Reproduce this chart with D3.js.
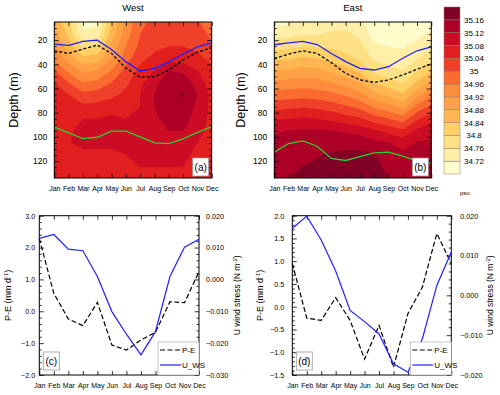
<!DOCTYPE html>
<html>
<head>
<meta charset="utf-8">
<script src="https://cdn.jsdelivr.net/npm/d3@7"></script>
<style>
  body { margin: 0; background: #fff; }
  svg text { font-family: "Liberation Sans", Arial, sans-serif; fill: #000; }
</style>
</head>
<body>
<div id="chart"></div>
<script>
// ---- data ----
const months = ["Jan", "Feb", "Mar", "Apr", "May", "Jun", "Jul", "Aug", "Sep", "Oct", "Nov", "Dec"];
const depths = [5, 15, 25, 35, 45, 55, 65, 75, 85, 95, 105, 115, 125, 135];
const depthTicks = [20, 40, 60, 80, 100, 120];
const levels = [34.72, 34.76, 34.8, 34.84, 34.88, 34.92, 34.96, 35, 35.04, 35.08, 35.12, 35.16];
const levelLabels = ["34.72", "34.76", "34.8", "34.84", "34.88", "34.92", "34.96", "35", "35.04", "35.08", "35.12", "35.16"];
const levelColors = ["#fffbca", "#ffeea6", "#fee185", "#fed167", "#feb650", "#fea245", "#fd8c3c",
  "#fa6b30", "#ef4129", "#e21f1f", "#cb0c24", "#ad0027", "#800026"];

// salinity, one row per month (Jan..Dec), one value per depth level
const westSalinity = [
  [34.87, 34.90, 34.92, 34.95, 35.00, 35.04, 35.05, 35.06, 35.06, 35.07, 35.07, 35.06, 35.06, 35.05],
  [34.81, 34.83, 34.86, 34.90, 34.95, 35.00, 35.04, 35.05, 35.06, 35.075, 35.078, 35.07, 35.06, 35.05],
  [34.70, 34.73, 34.79, 34.85, 34.91, 34.96, 35.01, 35.05, 35.08, 35.09, 35.09, 35.07, 35.06, 35.05],
  [34.71, 34.74, 34.80, 34.86, 34.92, 34.97, 35.02, 35.05, 35.08, 35.10, 35.09, 35.07, 35.06, 35.05],
  [34.84, 34.86, 34.89, 34.92, 34.96, 35.00, 35.03, 35.06, 35.09, 35.10, 35.09, 35.07, 35.06, 35.06],
  [34.93, 34.94, 34.96, 34.98, 35.01, 35.03, 35.05, 35.07, 35.08, 35.09, 35.09, 35.08, 35.07, 35.06],
  [34.99, 35.00, 35.01, 35.03, 35.05, 35.07, 35.08, 35.08, 35.09, 35.09, 35.09, 35.09, 35.08, 35.07],
  [35.01, 35.02, 35.03, 35.05, 35.08, 35.11, 35.12, 35.12, 35.11, 35.11, 35.10, 35.09, 35.08, 35.07],
  [35.02, 35.03, 35.04, 35.06, 35.12, 35.14, 35.15, 35.15, 35.14, 35.12, 35.10, 35.09, 35.08, 35.07],
  [35.02, 35.03, 35.04, 35.06, 35.11, 35.15, 35.163, 35.15, 35.14, 35.12, 35.10, 35.09, 35.08, 35.07],
  [35.01, 35.02, 35.03, 35.05, 35.08, 35.10, 35.12, 35.11, 35.10, 35.09, 35.08, 35.07, 35.07, 35.06],
  [34.95, 34.99, 35.01, 35.03, 35.05, 35.06, 35.07, 35.07, 35.07, 35.07, 35.07, 35.06, 35.06, 35.05]
];
const eastSalinity = [
  [34.705, 34.742, 34.785, 34.831, 34.880, 34.929, 34.975, 35.025, 35.075, 35.116, 35.128, 35.137, 35.146, 35.155],
  [34.713, 34.747, 34.790, 34.836, 34.885, 34.933, 34.980, 35.030, 35.080, 35.121, 35.131, 35.141, 35.151, 35.161],
  [34.726, 34.757, 34.800, 34.845, 34.893, 34.938, 34.985, 35.035, 35.086, 35.125, 35.137, 35.149, 35.161, 35.165],
  [34.729, 34.757, 34.796, 34.840, 34.889, 34.933, 34.980, 35.030, 35.080, 35.125, 35.142, 35.158, 35.165, 35.170],
  [34.737, 34.768, 34.793, 34.828, 34.871, 34.920, 34.970, 35.020, 35.070, 35.122, 35.144, 35.165, 35.170, 35.172],
  [34.740, 34.769, 34.787, 34.812, 34.853, 34.900, 34.954, 35.005, 35.057, 35.114, 35.150, 35.168, 35.175, 35.175],
  [34.730, 34.750, 34.771, 34.793, 34.831, 34.880, 34.931, 34.989, 35.046, 35.103, 35.148, 35.168, 35.172, 35.170],
  [34.690, 34.703, 34.728, 34.753, 34.788, 34.835, 34.891, 34.953, 35.020, 35.086, 35.132, 35.163, 35.166, 35.165],
  [34.690, 34.700, 34.718, 34.743, 34.772, 34.815, 34.869, 34.933, 35.000, 35.067, 35.122, 35.138, 35.155, 35.162],
  [34.690, 34.700, 34.716, 34.738, 34.760, 34.796, 34.846, 34.907, 34.980, 35.047, 35.105, 35.128, 35.137, 35.149],
  [34.690, 34.707, 34.733, 34.758, 34.796, 34.846, 34.907, 34.973, 35.034, 35.088, 35.122, 35.131, 35.139, 35.148],
  [34.703, 34.728, 34.753, 34.788, 34.835, 34.891, 34.953, 35.011, 35.065, 35.108, 35.126, 35.134, 35.143, 35.151]
];

// depth lines (m)
const westBlue = [23.3, 24.4, 21, 20, 27.7, 37.8, 45.5, 43.3, 38, 31.5, 25.5, 22.2];
const westBlack = [28.8, 31, 27.4, 24.1, 31, 43, 50.7, 50.1, 44.7, 36.4, 29.9, 26.3];
const westGreen = [92, 96.7, 101.4, 100.3, 95.3, 95.3, 100, 105, 105.5, 101.6, 96.2, 91.5];
const eastBlue = [23.8, 22.2, 21, 23.6, 31, 37.8, 43.3, 44.7, 42, 35, 28.8, 25.5];
const eastBlack = [35.3, 31.5, 28.8, 31, 38.6, 47.4, 52.9, 55, 52.9, 48.8, 44.1, 39.7];
const eastGreen = [112.6, 105.5, 103.3, 107.7, 117.8, 119.5, 116.4, 113.2, 112.6, 115.9, 120, 121.4];

// P-E (mm/d) and zonal wind stress (N/m2)
const westPE = [2.29, 0.56, -0.24, -0.45, 0.28, -1.06, -1.22, -0.9, -0.66, 0.30, 0.27, 1.24];
const westUWS = [0.0129, 0.0141, 0.0095, 0.0090, 0.0009, -0.0101, -0.0172, -0.0237, -0.0164, 0.0009, 0.0101, 0.0126];
const eastPE = [0.95, -0.25, -0.30, 0.20, -0.30, -1.15, -0.41, -1.33, -0.15, 0.43, 1.61, 0.95];
const eastUWS = [0.0168, 0.0199, 0.0139, 0.0061, -0.0038, -0.0066, -0.0097, -0.0172, -0.0193, -0.0109, 0.0025, 0.0109];

const westPETicks = [-2, -1, 0, 1, 2, 3];
const westWSTicks = [-0.03, -0.02, -0.01, 0, 0.01, 0.02];
const eastPETicks = [-1.5, -1, -0.5, 0, 0.5, 1, 1.5, 2];
const eastWSTicks = [-0.02, -0.01, 0, 0.01, 0.02];

// ---- drawing ----
const svg = d3.select("#chart").append("svg")
  .attr("width", 500).attr("height", 395);

function addAxis(g, axisFn, scale, vals, size, fmt, tx, ty, fontSize, pad) {
  const a = axisFn(scale).tickValues(vals)
    .tickSizeInner(-size).tickSizeOuter(0)
    .tickPadding(pad || 4)
    .tickFormat(fmt || (() => ""));
  const ag = g.append("g")
    .attr("transform", `translate(${tx},${ty})`)
    .call(a);
  ag.attr("font-family", null).attr("font-size", null);
  ag.select(".domain").remove();
  ag.selectAll("line").attr("stroke", "#000").attr("stroke-width", 0.8);
  ag.selectAll("text").style("font-size", fontSize + "px");
  return ag;
}

function labelBox(g, cx, cy, txt) {
  g.append("rect").attr("x", cx - 8).attr("y", cy - 9).attr("width", 16).attr("height", 18)
    .attr("fill", "#fff").attr("stroke", "#999").attr("stroke-width", 0.8);
  g.append("text").attr("x", cx).attr("y", cy + 3.5).attr("text-anchor", "middle")
    .style("font-size", "10px").text(txt);
}

function contourPanel(cfg) {
  const g = svg.append("g");
  const x = d3.scaleLinear().domain([0, 11]).range([cfg.x0, cfg.x1]);
  const y = d3.scaleLinear().domain([5, 134]).range([cfg.y0, cfg.y1]);

  const nx = months.length, ny = depths.length, dz = depths[1] - depths[0];
  const values = [];
  for (let j = 0; j < ny; j++) for (let i = 0; i < nx; i++) values.push(cfg.sal[i][j]);
  const bands = d3.contours().size([nx, ny]).thresholds([34].concat(levels))(values);

  const proj = d3.geoTransform({
    point: function (px, py) { this.stream.point(x(px - 0.5), y(depths[0] + (py - 0.5) * dz)); }
  });
  const path = d3.geoPath(proj);

  g.append("clipPath").attr("id", cfg.id).append("rect")
    .attr("x", cfg.x0).attr("y", cfg.y0).attr("width", cfg.x1 - cfg.x0).attr("height", cfg.y1 - cfg.y0);

  const plot = g.append("g").attr("clip-path", `url(#${cfg.id})`);
  plot.selectAll("path.band").data(bands).join("path")
    .attr("class", "band")
    .attr("d", path)
    .attr("fill", (d, i) => levelColors[i]);

  const line = d3.line().x((d, i) => x(i)).y(d => y(d));
  plot.append("path").attr("d", line(cfg.green)).attr("fill", "none").attr("stroke", "#33cc33").attr("stroke-width", 1.3);
  plot.append("path").attr("d", line(cfg.black)).attr("fill", "none").attr("stroke", "#000").attr("stroke-width", 1.3).attr("stroke-dasharray", "3,2");
  plot.append("path").attr("d", line(cfg.blue)).attr("fill", "none").attr("stroke", "#2020ff").attr("stroke-width", 1.3);

  // axes
  const mIdx = d3.range(12);
  addAxis(g, d3.axisBottom, x, mIdx, 4, i => months[i], 0, cfg.y1, 7, 8);
  addAxis(g, d3.axisTop, x, mIdx, 4, null, 0, cfg.y0, 7);
  addAxis(g, d3.axisLeft, y, depthTicks, 4.5, d => d, cfg.x0, 0, 8.5, 7);
  addAxis(g, d3.axisRight, y, depthTicks, 4.5, null, cfg.x1, 0, 8.5);
  const minor = d3.range(10, 135, 5).filter(d => d % 20 !== 0);
  addAxis(g, d3.axisLeft, y, minor, 2.5, null, cfg.x0, 0, 8);
  addAxis(g, d3.axisRight, y, minor, 2.5, null, cfg.x1, 0, 8);

  g.append("rect").attr("x", cfg.x0).attr("y", cfg.y0)
    .attr("width", cfg.x1 - cfg.x0).attr("height", cfg.y1 - cfg.y0)
    .attr("fill", "none").attr("stroke", "#000").attr("stroke-width", 1);

  g.append("text").attr("x", (cfg.x0 + cfg.x1) / 2).attr("y", 11)
    .attr("text-anchor", "middle").style("font-size", "9.5px").text(cfg.title);

  g.append("text")
    .attr("transform", `translate(${cfg.ytx},${(cfg.y0 + cfg.y1) / 2}) rotate(-90)`)
    .attr("text-anchor", "middle").style("font-size", "12.5px").text("Depth (m)");

  labelBox(g, cfg.x1 - 11, cfg.y1 - 11, cfg.label);
}

function linePanel(cfg) {
  const g = svg.append("g");
  const x = d3.scaleLinear().domain([0, 11]).range([cfg.x0, cfg.x1]);
  const yl = d3.scaleLinear().domain(d3.extent(cfg.peTicks)).range([cfg.y1, cfg.y0]);
  const yr = d3.scaleLinear().domain(d3.extent(cfg.wsTicks)).range([cfg.y1, cfg.y0]);

  const mIdx = d3.range(12);
  addAxis(g, d3.axisBottom, x, mIdx, 4, i => months[i], 0, cfg.y1, 7, 8);
  addAxis(g, d3.axisTop, x, mIdx, 4, null, 0, cfg.y0, 7);
  addAxis(g, d3.axisLeft, yl, cfg.peTicks, 4.5, d3.format(".1f"), cfg.x0, 0, 7.2, cfg.padL);
  addAxis(g, d3.axisRight, yr, cfg.wsTicks, 4.5, d3.format(".3f"), cfg.x1, 0, 7.2, cfg.padR);
  const peStep = cfg.peTicks[1] - cfg.peTicks[0];
  const peMinor = d3.range(cfg.peTicks[0], cfg.peTicks[cfg.peTicks.length - 1], peStep / 5)
    .filter(d => Math.abs(((d - cfg.peTicks[0]) / peStep) % 1) > 0.01 && Math.abs(((d - cfg.peTicks[0]) / peStep) % 1) < 0.99);
  addAxis(g, d3.axisLeft, yl, peMinor, 2.5, null, cfg.x0, 0, 7);
  const wsMinor = d3.range(cfg.wsTicks[0], cfg.wsTicks[cfg.wsTicks.length - 1], 0.002)
    .filter(d => Math.abs(((d - cfg.wsTicks[0]) / 0.01) % 1) > 0.01 && Math.abs(((d - cfg.wsTicks[0]) / 0.01) % 1) < 0.99);
  addAxis(g, d3.axisRight, yr, wsMinor, 2.5, null, cfg.x1, 0, 7);

  g.append("rect").attr("x", cfg.x0).attr("y", cfg.y0)
    .attr("width", cfg.x1 - cfg.x0).attr("height", cfg.y1 - cfg.y0)
    .attr("fill", "none").attr("stroke", "#000").attr("stroke-width", 1);

  g.append("path").attr("d", d3.line().x((d, i) => x(i)).y(d => yl(d))(cfg.pe))
    .attr("fill", "none").attr("stroke", "#000").attr("stroke-width", 1.2).attr("stroke-dasharray", "5,2.5");
  g.append("path").attr("d", d3.line().x((d, i) => x(i)).y(d => yr(d))(cfg.ws))
    .attr("fill", "none").attr("stroke", "#2020ff").attr("stroke-width", 1.2);

  const ym = (cfg.y0 + cfg.y1) / 2;
  const tl = g.append("text")
    .attr("transform", `translate(${cfg.ltx},${ym}) rotate(-90)`)
    .attr("text-anchor", "middle").style("font-size", "9px");
  tl.append("tspan").text("P-E (mm d");
  tl.append("tspan").attr("dy", -3).style("font-size", "6px").text("-1");
  tl.append("tspan").attr("dy", 3).text(")");

  const tr = g.append("text")
    .attr("transform", `translate(${cfg.rtx},${ym}) rotate(-90)`)
    .attr("text-anchor", "middle").style("font-size", "8.5px");
  tr.append("tspan").text("U wind stress (N m");
  tr.append("tspan").attr("dy", -3).style("font-size", "6px").text("-2");
  tr.append("tspan").attr("dy", 3).text(")");

  // legend
  const lx = cfg.x1 - 41, ly = cfg.y1 - 33;
  g.append("rect").attr("x", lx).attr("y", ly).attr("width", 41).attr("height", 33)
    .attr("fill", "#fff").attr("stroke", "#aaa").attr("stroke-width", 0.7);
  const items = [
    { name: "P-E", color: "#000", dash: "5,2.5" },
    { name: "U_WS", color: "#2020ff", dash: null }
  ];
  items.forEach((it, k) => {
    const yy = ly + 8 + k * 15;
    g.append("line").attr("x1", lx + 2).attr("x2", lx + 23).attr("y1", yy).attr("y2", yy)
      .attr("stroke", it.color).attr("stroke-width", 1.2).attr("stroke-dasharray", it.dash);
    g.append("text").attr("x", lx + 24).attr("y", yy + 3).style("font-size", "8px").text(it.name);
  });

  labelBox(g, cfg.x0 + 12, cfg.y1 - 14, cfg.label);
}

contourPanel({ id: "clipW", x0: 54.3, x1: 211.7, y0: 22, y1: 178, sal: westSalinity,
  blue: westBlue, black: westBlack, green: westGreen, title: "West", label: "(a)", ytx: 18 });
contourPanel({ id: "clipE", x0: 274.3, x1: 431.3, y0: 22, y1: 178, sal: eastSalinity,
  blue: eastBlue, black: eastBlack, green: eastGreen, title: "East", label: "(b)", ytx: 245 });

// colour bar
const cb = svg.append("g");
const cbY = d3.scaleLinear().domain([0, levelColors.length]).range([174, 7]);
cb.selectAll("rect").data(levelColors).join("rect")
  .attr("x", 444).attr("width", 16)
  .attr("y", (d, i) => cbY(i + 1)).attr("height", (d, i) => cbY(i) - cbY(i + 1))
  .attr("fill", d => d).attr("stroke", "#8c7f70").attr("stroke-width", 0.5);
cb.selectAll("text").data(levelLabels).join("text")
  .attr("x", 474).attr("y", (d, i) => cbY(i + 1) + 3)
  .attr("text-anchor", "middle").style("font-size", "8px").text(d => d);
cb.append("text").attr("x", 460).attr("y", 195).style("font-size", "6px").text("psu");

linePanel({ x0: 39.3, x1: 199, y0: 215.7, y1: 375, pe: westPE, ws: westUWS,
  peTicks: westPETicks, wsTicks: westWSTicks, label: "(c)", padL: 4, padR: 7, ltx: 11, rtx: 240 });
linePanel({ x0: 292.3, x1: 451.3, y0: 215.7, y1: 375, pe: eastPE, ws: eastUWS,
  peTicks: eastPETicks, wsTicks: eastWSTicks, label: "(d)", padL: 8, padR: 9, ltx: 263, rtx: 493 });
</script>
</body>
</html>
